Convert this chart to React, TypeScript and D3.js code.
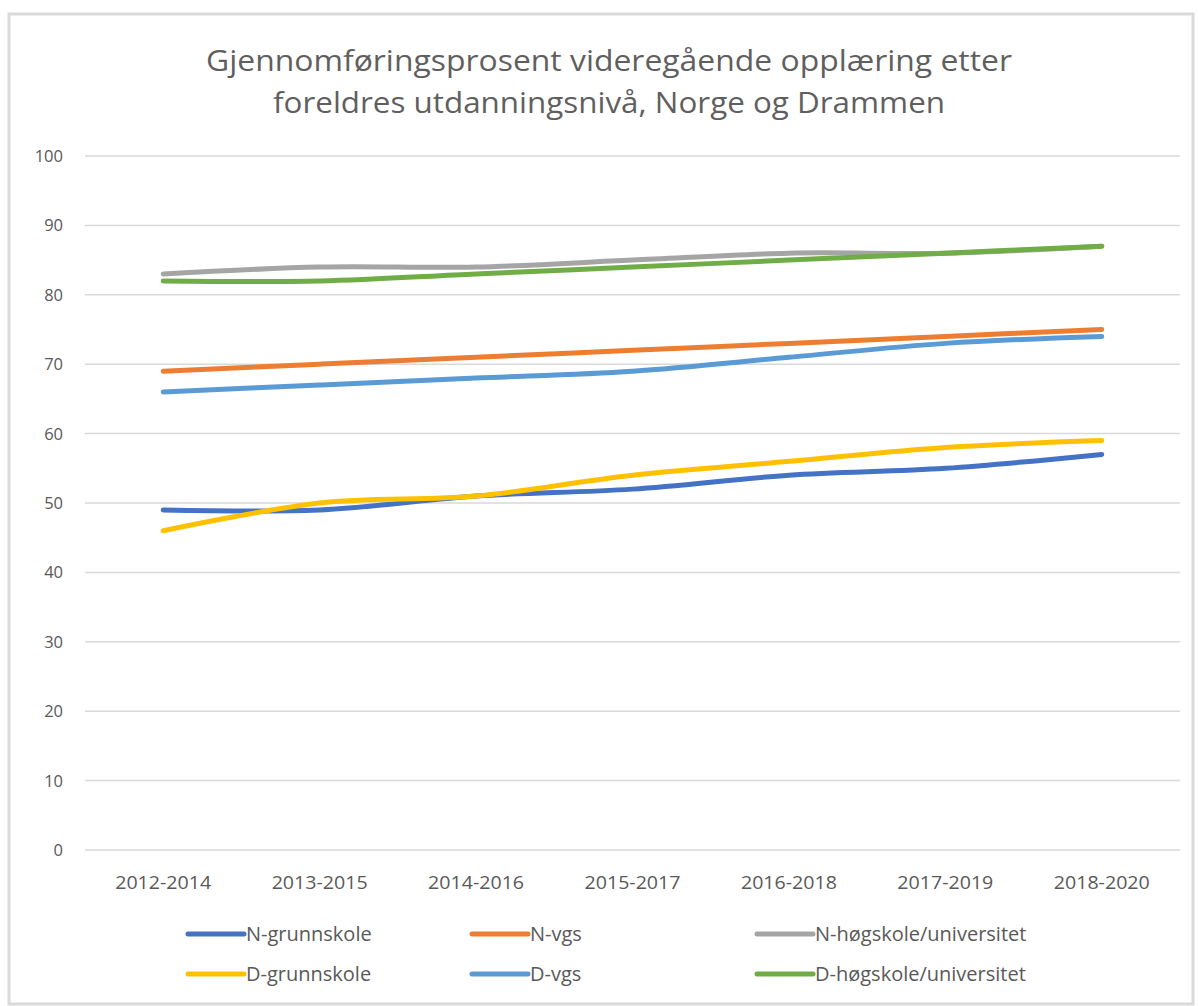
import React from "react";
import * as d3 from "d3";

const categories = ["2012-2014", "2013-2015", "2014-2016", "2015-2017", "2016-2018", "2017-2019", "2018-2020"];
const yTicks = [0, 10, 20, 30, 40, 50, 60, 70, 80, 90, 100];

const nGrunnskole = [49, 49, 51, 52, 54, 55, 57];
const nVgs = [69, 70, 71, 72, 73, 74, 75];
const nHogskole = [83, 84, 84, 85, 86, 86, 87];
const dGrunnskole = [46, 50, 51, 54, 56, 58, 59];
const dVgs = [66, 67, 68, 69, 71, 73, 74];
const dHogskole = [82, 82, 83, 84, 85, 86, 87];

const seriesNames = ["N-grunnskole", "N-vgs", "N-høgskole/universitet", "D-grunnskole", "D-vgs", "D-høgskole/universitet"];
const seriesValues = [nGrunnskole, nVgs, nHogskole, dGrunnskole, dVgs, dHogskole];
const seriesColors = ["#4472C4", "#ED7D31", "#A5A5A5", "#FFC000", "#5B9BD5", "#70AD47"];
const drawOrder = [0, 1, 2, 3, 4, 5];

const W = 1198;
const H = 1006;
const left = 85;
const right = 1180;
const top = 156;
const bottom = 850;

const font = "'Liberation Sans Narrow', 'Open Sans', 'Noto Sans', sans-serif";
const tickFont = "'Open Sans', 'Noto Sans', sans-serif";

export default function App() {
  const x = d3.scaleBand<string>().domain(categories).range([left, right]);
  const y = d3.scaleLinear().domain([0, 100]).range([bottom, top]);
  const line = d3
    .line<number>()
    .x((_, i) => (x(categories[i]) as number) + x.bandwidth() / 2)
    .y((d) => y(d))
    .curve(d3.curveCatmullRom.alpha(0.5));

  const legendCols = [188, 472, 757];
  const legendRows = [934, 974];

  return (
    <svg width={W} height={H} style={{ position: "absolute", left: 0, top: 0, background: "#fff" }}>
      <rect x={0} y={0} width={W} height={H} fill="#fff" />
      <rect x={9} y={14} width={1184} height={990} fill="none" stroke="#d9d9d9" strokeWidth={3} />
      <text x={609} y={71} textAnchor="middle" fontFamily={font} fontSize={30} fill="#5f5f5f" textLength={806} lengthAdjust="spacingAndGlyphs">
        Gjennomføringsprosent  videregående opplæring etter
      </text>
      <text x={609} y={113} textAnchor="middle" fontFamily={font} fontSize={30} fill="#5f5f5f" textLength={672} lengthAdjust="spacingAndGlyphs">
        foreldres utdanningsnivå, Norge og Drammen
      </text>
      {yTicks.map((t) => (
        <g key={t}>
          <line x1={left} x2={right} y1={y(t)} y2={y(t)} stroke="#d9d9d9" strokeWidth={1.5} />
          <text x={63} y={y(t) + 6} textAnchor="end" fontFamily={tickFont} fontSize={16.5} fill="#595959">
            {t}
          </text>
        </g>
      ))}
      {categories.map((c) => (
        <text key={c} x={(x(c) as number) + x.bandwidth() / 2} y={889} textAnchor="middle" fontFamily={font} fontSize={18} fill="#595959" textLength={96} lengthAdjust="spacingAndGlyphs">
          {c}
        </text>
      ))}
      {drawOrder.map((i) => (
        <path key={i} d={line(seriesValues[i]) || ""} fill="none" stroke={seriesColors[i]} strokeWidth={5} strokeLinecap="round" strokeLinejoin="round" />
      ))}
      {seriesNames.map((name, i) => {
        const cx = legendCols[i % 3];
        const cy = legendRows[Math.floor(i / 3)];
        return (
          <g key={name}>
            <line x1={cx} x2={cx + 56} y1={cy} y2={cy} stroke={seriesColors[i]} strokeWidth={5} strokeLinecap="round" />
            <text x={cx + 58} y={cy + 7} fontFamily={font} fontSize={20} fill="#595959">
              {name}
            </text>
          </g>
        );
      })}
    </svg>
  );
}
